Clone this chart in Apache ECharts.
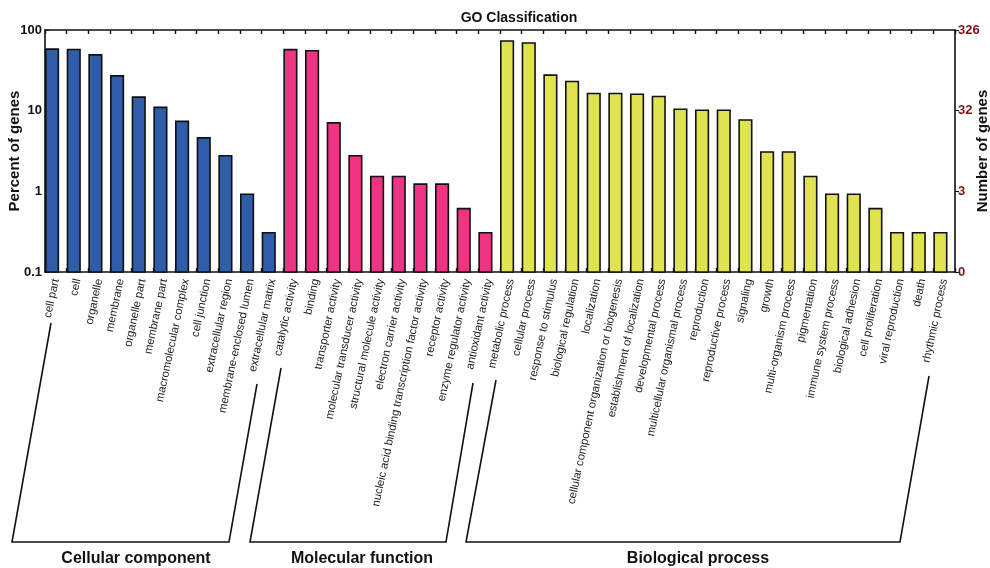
<!DOCTYPE html>
<html>
<head>
<meta charset="utf-8">
<script src="https://cdn.jsdelivr.net/npm/echarts@6/dist/echarts.min.js"></script>
<style>
  html, body { margin: 0; padding: 0; background: #ffffff; }
  #chart { width: 990px; height: 568px; }
</style>
</head>
<body>
<div id="chart"></div>
<script>
// GO term categories and their share of annotated genes (percent, log scale)
const ccLabels = ['cell part', 'cell', 'organelle', 'membrane', 'organelle part', 'membrane part',
  'macromolecular complex', 'cell junction', 'extracellular region', 'membrane-enclosed lumen',
  'extracellular matrix'];
const ccValues = [58.0, 57.4, 49.1, 27.0, 14.7, 11.0, 7.36, 4.60, 2.76, 0.92, 0.307];

const mfLabels = ['catalytic activity', 'binding', 'transporter activity', 'molecular transducer activity',
  'structural molecule activity', 'electron carrier activity',
  'nucleic acid binding transcription factor activity', 'receptor activity',
  'enzyme regulator activity', 'antioxidant activity'];
const mfValues = [57.1, 55.2, 7.06, 2.76, 1.53, 1.53, 1.23, 1.23, 0.61, 0.307];

const bpLabels = ['metabolic process', 'cellular process', 'response to stimulus', 'biological regulation',
  'localization', 'cellular component organization or biogenesis', 'establishment of localization',
  'developmental process', 'multicellular organismal process', 'reproduction', 'reproductive process',
  'signaling', 'growth', 'multi-organism process', 'pigmentation', 'immune system process',
  'biological adhesion', 'cell proliferation', 'viral reproduction', 'death', 'rhythmic process'];
const bpValues = [73.0, 69.0, 27.6, 23.0, 16.3, 16.3, 15.95, 15.0, 10.4, 10.1, 10.1,
  7.67, 3.07, 3.07, 1.53, 0.92, 0.92, 0.61, 0.307, 0.307, 0.307];

// Left axis ticks (percent) and matching gene counts on the right axis
const percentTicks = [0.1, 1, 10, 100];
const geneTicks = ['0', '3', '32', '326'];

const groupNames = ['Cellular component', 'Molecular function', 'Biological process'];
const groupColors = ['#2f5daa', '#ee3482', '#dfe34f'];

const categories = ccLabels.concat(mfLabels, bpLabels);
const groups = [ccValues, mfValues, bpValues];

let offset = 0;
const series = groups.map((vals, g) => {
  const start = offset;
  offset += vals.length;
  return {
    type: 'custom',
    name: groupNames[g],
    xAxisIndex: 0,
    yAxisIndex: 0,
    itemStyle: { color: groupColors[g] },
    data: vals.map((v, k) => [start + k, v]),
    renderItem: (params, api) => {
      const idx = api.value(0);
      const val = api.value(1);
      const band = params.coordSys.width / categories.length;
      const topPt = api.coord([idx, val]);
      const basePt = api.coord([idx, percentTicks[0]]);
      const x0 = topPt[0] - band / 2 + 0.8;
      return {
        type: 'rect',
        shape: { x: x0, y: topPt[1], width: band * 0.58, height: basePt[1] - topPt[1] },
        style: { fill: api.visual('color'), stroke: '#111111', lineWidth: 1.6 }
      };
    }
  };
});

const chart = echarts.init(document.getElementById('chart'), null, { renderer: 'canvas' });

const geneLabel = {};
percentTicks.forEach((p, i) => { geneLabel[p] = geneTicks[i]; });

// Bracket shapes that group the category labels
const bracketStyle = { stroke: '#111111', lineWidth: 1.6, fill: null };
const brackets = [
  [[51, 323], [12, 542], [229, 542], [257, 384]],
  [[281, 368], [250, 542], [446, 542], [473, 383]],
  [[496, 380], [466, 542], [900, 542], [929, 376]]
];
const groupLabelX = [136, 362, 698];

const nameStyle = { fontFamily: 'Liberation Sans, Arial', fontSize: 15, fontWeight: 'bold', color: '#111' };

chart.setOption({
  animation: false,
  title: {
    text: 'GO Classification',
    left: 514, top: 6, textAlign: 'center',
    textStyle: { fontFamily: 'Liberation Sans, Arial', fontSize: 14, fontWeight: 'bold', color: '#111' }
  },
  grid: { left: 45, right: 35, top: 30, bottom: 296, containLabel: false, outerBoundsMode: 'none' },
  xAxis: [
    {
      type: 'category', data: categories, position: 'bottom', boundaryGap: true,
      axisLine: { lineStyle: { color: '#111', width: 1.6 } },
      axisTick: { show: true, inside: true, interval: 0, length: 4, lineStyle: { color: '#111', width: 1.4 } },
      axisLabel: {
        interval: 0, rotate: 78, margin: 7, hideOverlap: false,
        fontFamily: 'Liberation Sans, Arial', fontSize: 11.3, color: '#222'
      }
    },
    {
      type: 'category', data: categories, position: 'top', boundaryGap: true,
      axisLine: { lineStyle: { color: '#111', width: 1.6 } },
      axisTick: { show: true, inside: true, interval: 0, length: 4, lineStyle: { color: '#111', width: 1.4 } },
      axisLabel: { show: false }
    }
  ],
  yAxis: [
    {
      type: 'log', logBase: 10, min: 0.1, max: 100, position: 'left',
      name: 'Percent of genes', nameLocation: 'middle', nameGap: 23, nameRotate: 90,
      nameMoveOverlap: false,
      nameTextStyle: nameStyle,
      axisLine: { show: true, lineStyle: { color: '#111', width: 1.6 } },
      axisTick: { show: true, inside: true, length: 4, lineStyle: { color: '#111' } },
      minorTick: { show: false },
      splitLine: { show: false },
      axisLabel: {
        margin: 3,
        fontFamily: 'Liberation Sans, Arial', fontSize: 13, fontWeight: 'bold', color: '#111',
        formatter: v => String(Number(v.toPrecision(3)))
      }
    },
    {
      type: 'log', logBase: 10, min: 0.1, max: 100, position: 'right',
      name: 'Number of genes', nameLocation: 'middle', nameGap: 20, nameRotate: 90,
      nameMoveOverlap: false,
      nameTextStyle: nameStyle,
      axisLine: { show: true, lineStyle: { color: '#111', width: 1.6 } },
      axisTick: { show: true, inside: false, length: 4, lineStyle: { color: '#111' } },
      splitLine: { show: false },
      axisLabel: {
        margin: 3,
        fontFamily: 'Liberation Sans, Arial', fontSize: 13, fontWeight: 'bold', color: '#7d1416',
        formatter: v => geneLabel[Number(v.toPrecision(3))] || ''
      }
    }
  ],
  series: series,
  graphic: brackets.map(pts => ({
    type: 'polyline', shape: { points: pts }, style: bracketStyle, silent: true
  })).concat(groupNames.map((n, i) => ({
    type: 'text', x: groupLabelX[i], y: 559,
    style: {
      text: n, textAlign: 'center', textVerticalAlign: 'middle',
      font: 'bold 16px "Liberation Sans", Arial', fill: '#111'
    }
  })))
});
</script>
</body>
</html>
